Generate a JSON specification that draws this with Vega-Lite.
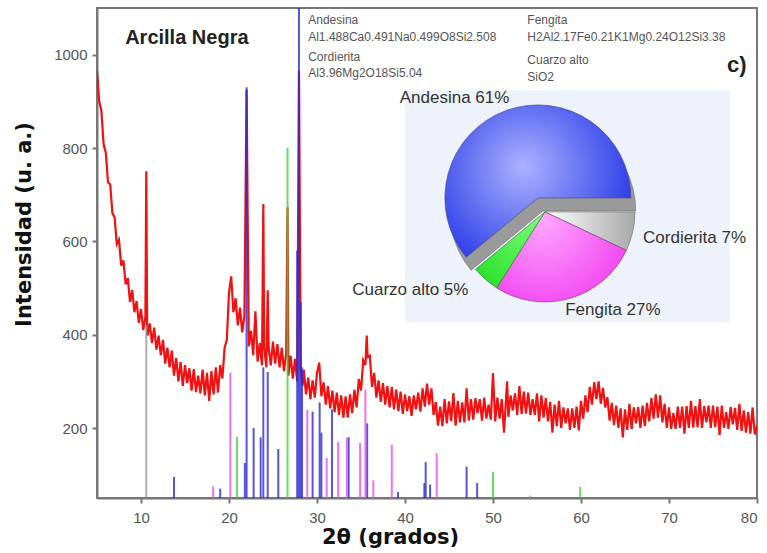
{
 "$schema": "https://vega.github.io/schema/vega-lite/v6.json",
 "width": 660,
 "height": 490,
 "autosize": "none",
 "padding": {"left": 97, "top": 8, "right": 10, "bottom": 55},
 "background": "white",
 "config": {
  "font": "Liberation Sans",
  "scale": {"zero": false},
  "view": {"stroke": "#777777", "strokeWidth": 2},
  "axis": {"domainColor": "#777777", "domainWidth": 2, "tickColor": "#777777", "tickWidth": 2, "tickSize": 5, "labelFont": "Liberation Sans", "labelFontSize": 15, "labelColor": "#555555", "titleFont": "DejaVu Sans", "titleFontSize": 21, "titleFontWeight": "bold", "titleColor": "#111111", "grid": false}
 },
 "datasets": {
  "xrd": [
   {"t":5,"i":965},{"t":5.25,"i":900},{"t":5.5,"i":880},{"t":5.75,"i":808},{"t":6,"i":790},{"t":6.25,"i":726},{"t":6.5,"i":722},{"t":6.75,"i":660},{"t":7,"i":652},{"t":7.25,"i":594},{"t":7.5,"i":603},{"t":7.75,"i":548},{"t":8,"i":559},{"t":8.25,"i":508},{"t":8.5,"i":521},{"t":8.75,"i":470},{"t":9,"i":496},{"t":9.25,"i":448},{"t":9.5,"i":472},{"t":9.75,"i":425},{"t":10,"i":455},{"t":10.25,"i":410},{"t":10.5,"i":438},{"t":10.6,"i":750},{"t":10.7,"i":405},{"t":10.75,"i":398},{"t":11,"i":424},{"t":11.25,"i":382},{"t":11.5,"i":415},{"t":11.75,"i":368},{"t":12,"i":398},{"t":12.25,"i":356},{"t":12.5,"i":389},{"t":12.75,"i":338},{"t":13,"i":372},{"t":13.25,"i":330},{"t":13.5,"i":366},{"t":13.75,"i":312},{"t":14,"i":350},{"t":14.25,"i":300},{"t":14.5,"i":341},{"t":14.75,"i":290},{"t":15,"i":335},{"t":15.25,"i":296},{"t":15.5,"i":328},{"t":15.75,"i":280},{"t":16,"i":326},{"t":16.25,"i":277},{"t":16.5,"i":312},{"t":16.75,"i":274},{"t":17,"i":325},{"t":17.25,"i":270},{"t":17.5,"i":318},{"t":17.75,"i":258},{"t":18,"i":322},{"t":18.25,"i":272},{"t":18.5,"i":330},{"t":18.75,"i":276},{"t":19,"i":335},{"t":19.25,"i":306},{"t":19.5,"i":372},{"t":19.75,"i":388},{"t":20,"i":490},{"t":20.25,"i":525},{"t":20.5,"i":448},{"t":20.75,"i":478},{"t":21,"i":420},{"t":21.25,"i":458},{"t":21.5,"i":405},{"t":21.75,"i":440},{"t":22,"i":925},{"t":22.25,"i":375},{"t":22.5,"i":408},{"t":22.75,"i":356},{"t":23,"i":450},{"t":23.25,"i":342},{"t":23.5,"i":382},{"t":23.75,"i":334},{"t":23.9,"i":680},{"t":24,"i":372},{"t":24.25,"i":330},{"t":24.4,"i":495},{"t":24.5,"i":375},{"t":24.75,"i":334},{"t":25,"i":385},{"t":25.25,"i":338},{"t":25.5,"i":380},{"t":25.75,"i":330},{"t":26,"i":372},{"t":26.25,"i":322},{"t":26.5,"i":360},{"t":26.65,"i":673},{"t":26.75,"i":312},{"t":27,"i":355},{"t":27.25,"i":306},{"t":27.5,"i":348},{"t":27.75,"i":300},{"t":27.95,"i":965},{"t":28.15,"i":330},{"t":28.35,"i":290},{"t":28.5,"i":325},{"t":28.75,"i":272},{"t":29,"i":308},{"t":29.25,"i":262},{"t":29.5,"i":302},{"t":29.75,"i":265},{"t":30,"i":318},{"t":30.25,"i":340},{"t":30.5,"i":268},{"t":30.75,"i":298},{"t":31,"i":250},{"t":31.25,"i":290},{"t":31.5,"i":242},{"t":31.75,"i":280},{"t":32,"i":234},{"t":32.25,"i":276},{"t":32.5,"i":228},{"t":32.75,"i":270},{"t":33,"i":222},{"t":33.25,"i":268},{"t":33.5,"i":222},{"t":33.75,"i":272},{"t":34,"i":232},{"t":34.25,"i":282},{"t":34.5,"i":244},{"t":34.75,"i":305},{"t":35,"i":280},{"t":35.25,"i":345},{"t":35.5,"i":335},{"t":35.65,"i":398},{"t":35.75,"i":352},{"t":36,"i":355},{"t":36.25,"i":288},{"t":36.5,"i":318},{"t":36.75,"i":265},{"t":37,"i":302},{"t":37.25,"i":256},{"t":37.5,"i":296},{"t":37.75,"i":250},{"t":38,"i":290},{"t":38.25,"i":244},{"t":38.5,"i":288},{"t":38.75,"i":240},{"t":39,"i":282},{"t":39.25,"i":236},{"t":39.5,"i":278},{"t":39.75,"i":230},{"t":40,"i":272},{"t":40.25,"i":236},{"t":40.5,"i":268},{"t":40.75,"i":226},{"t":41,"i":270},{"t":41.25,"i":240},{"t":41.5,"i":276},{"t":41.75,"i":235},{"t":42,"i":285},{"t":42.25,"i":246},{"t":42.5,"i":295},{"t":42.75,"i":250},{"t":43,"i":285},{"t":43.25,"i":228},{"t":43.5,"i":256},{"t":43.75,"i":205},{"t":44,"i":246},{"t":44.25,"i":204},{"t":44.5,"i":262},{"t":44.75,"i":210},{"t":45,"i":257},{"t":45.25,"i":215},{"t":45.5,"i":275},{"t":45.75,"i":205},{"t":46,"i":258},{"t":46.25,"i":212},{"t":46.5,"i":255},{"t":46.75,"i":212},{"t":47,"i":285},{"t":47.25,"i":216},{"t":47.5,"i":262},{"t":47.75,"i":218},{"t":48,"i":264},{"t":48.25,"i":232},{"t":48.5,"i":262},{"t":48.75,"i":216},{"t":49,"i":265},{"t":49.25,"i":220},{"t":49.5,"i":250},{"t":49.75,"i":218},{"t":50,"i":318},{"t":50.25,"i":214},{"t":50.5,"i":265},{"t":50.75,"i":220},{"t":51,"i":262},{"t":51.25,"i":190},{"t":51.5,"i":268},{"t":51.6,"i":300},{"t":51.75,"i":224},{"t":52,"i":270},{"t":52.25,"i":238},{"t":52.5,"i":274},{"t":52.75,"i":228},{"t":53,"i":290},{"t":53.25,"i":230},{"t":53.5,"i":278},{"t":53.75,"i":231},{"t":54,"i":276},{"t":54.25,"i":228},{"t":54.5,"i":262},{"t":54.75,"i":228},{"t":55,"i":274},{"t":55.25,"i":214},{"t":55.5,"i":270},{"t":55.75,"i":222},{"t":56,"i":264},{"t":56.25,"i":214},{"t":56.5,"i":256},{"t":56.75,"i":190},{"t":57,"i":250},{"t":57.25,"i":204},{"t":57.5,"i":258},{"t":57.75,"i":200},{"t":58,"i":244},{"t":58.25,"i":210},{"t":58.5,"i":242},{"t":58.75,"i":196},{"t":59,"i":242},{"t":59.25,"i":200},{"t":59.5,"i":246},{"t":59.75,"i":195},{"t":60,"i":258},{"t":60.25,"i":220},{"t":60.5,"i":270},{"t":60.75,"i":234},{"t":61,"i":288},{"t":61.25,"i":250},{"t":61.5,"i":298},{"t":61.75,"i":262},{"t":62,"i":300},{"t":62.25,"i":252},{"t":62.5,"i":286},{"t":62.75,"i":244},{"t":63,"i":266},{"t":63.25,"i":216},{"t":63.5,"i":254},{"t":63.75,"i":206},{"t":64,"i":248},{"t":64.25,"i":200},{"t":64.5,"i":242},{"t":64.75,"i":180},{"t":65,"i":240},{"t":65.25,"i":196},{"t":65.5,"i":252},{"t":65.75,"i":198},{"t":66,"i":244},{"t":66.25,"i":210},{"t":66.5,"i":245},{"t":66.75,"i":200},{"t":67,"i":248},{"t":67.25,"i":204},{"t":67.5,"i":254},{"t":67.75,"i":214},{"t":68,"i":264},{"t":68.25,"i":220},{"t":68.5,"i":272},{"t":68.75,"i":222},{"t":69,"i":270},{"t":69.25,"i":212},{"t":69.5,"i":252},{"t":69.75,"i":200},{"t":70,"i":244},{"t":70.25,"i":198},{"t":70.5,"i":232},{"t":70.75,"i":198},{"t":71,"i":246},{"t":71.25,"i":200},{"t":71.5,"i":246},{"t":71.75,"i":188},{"t":72,"i":247},{"t":72.25,"i":200},{"t":72.5,"i":258},{"t":72.75,"i":201},{"t":73,"i":247},{"t":73.25,"i":202},{"t":73.5,"i":262},{"t":73.75,"i":200},{"t":74,"i":247},{"t":74.25,"i":212},{"t":74.5,"i":248},{"t":74.75,"i":200},{"t":75,"i":248},{"t":75.25,"i":202},{"t":75.5,"i":246},{"t":75.75,"i":185},{"t":76,"i":248},{"t":76.25,"i":200},{"t":76.5,"i":234},{"t":76.75,"i":198},{"t":77,"i":245},{"t":77.25,"i":208},{"t":77.5,"i":243},{"t":77.75,"i":196},{"t":78,"i":252},{"t":78.25,"i":194},{"t":78.5,"i":238},{"t":78.75,"i":190},{"t":79,"i":234},{"t":79.25,"i":188},{"t":79.5,"i":244},{"t":79.75,"i":186},{"t":80,"i":205}
  ],
  "sticks": [
   {"t":13.75,"h":95,"fase":"Andesina"},{"t":19.0,"h":70,"fase":"Andesina"},{"t":21.8,"h":125,"fase":"Andesina"},{"t":22.0,"h":930,"fase":"Andesina"},{"t":22.8,"h":200,"fase":"Andesina"},{"t":23.6,"h":180,"fase":"Andesina"},{"t":23.9,"h":330,"fase":"Andesina"},{"t":24.4,"h":320,"fase":"Andesina"},{"t":25.6,"h":155,"fase":"Andesina"},{"t":27.75,"h":580,"fase":"Andesina"},{"t":27.95,"h":1100,"fase":"Andesina"},{"t":28.15,"h":470,"fase":"Andesina"},{"t":28.3,"h":330,"fase":"Andesina"},{"t":29.5,"h":235,"fase":"Andesina"},{"t":30.3,"h":255,"fase":"Andesina"},{"t":30.5,"h":190,"fase":"Andesina"},{"t":31.7,"h":240,"fase":"Andesina"},{"t":33.6,"h":180,"fase":"Andesina"},{"t":35.7,"h":210,"fase":"Andesina"},{"t":39.2,"h":63,"fase":"Andesina"},{"t":42.2,"h":82,"fase":"Andesina"},{"t":42.35,"h":127,"fase":"Andesina"},{"t":42.85,"h":79,"fase":"Andesina"},{"t":47.0,"h":117,"fase":"Andesina"},{"t":48.2,"h":82,"fase":"Andesina"},
   {"t":18.2,"h":75,"fase":"Fengita"},{"t":20.15,"h":318,"fase":"Fengita"},{"t":28.9,"h":239,"fase":"Fengita"},{"t":31.1,"h":136,"fase":"Fengita"},{"t":32.4,"h":170,"fase":"Fengita"},{"t":33.4,"h":180,"fase":"Fengita"},{"t":34.9,"h":168,"fase":"Fengita"},{"t":35.5,"h":282,"fase":"Fengita"},{"t":36.4,"h":88,"fase":"Fengita"},{"t":38.5,"h":164,"fase":"Fengita"},{"t":43.6,"h":146,"fase":"Fengita"},
   {"t":20.9,"h":181,"fase":"Cuarzo alto"},{"t":26.65,"h":800,"fase":"Cuarzo alto"},{"t":50.0,"h":106,"fase":"Cuarzo alto"},{"t":59.9,"h":74,"fase":"Cuarzo alto"},
   {"t":10.6,"h":420,"fase":"Cordierita"},{"t":54.2,"h":55,"fase":"Cordierita"}
  ],
  "pie": [
   {"fase":"Cordierita","pct":7,"t0":0,"t1":7},
   {"fase":"Fengita","pct":27,"t0":7,"t1":34},
   {"fase":"Cuarzo alto","pct":5,"t0":34,"t1":39},
   {"fase":"Andesina","pct":61,"t0":39,"t1":100}
  ]
 },
 "layer": [
  {
   "data": {"values": [{}]},
   "mark": {"type": "rect", "color": "#eef2fa"},
   "encoding": {
    "x": {"datum": 40.0, "type": "quantitative", "scale": {"domain": [5, 80]}},
    "x2": {"datum": 76.9},
    "y": {"datum": 924, "type": "quantitative", "scale": {"domain": [50, 1100]}},
    "y2": {"datum": 427}
   }
  },
  {
   "data": {"name": "xrd"},
   "mark": {"type": "line", "color": "#f21010", "strokeWidth": 2.2, "clip": true},
   "encoding": {
    "x": {"field": "t", "type": "quantitative", "scale": {"domain": [5, 80]}, "title": "2θ (grados)", "axis": {"values": [10, 20, 30, 40, 50, 60, 70, 80], "labelPadding": 7, "titleX": 293, "titleY": 28, "titleBaseline": "top"}},
    "y": {"field": "i", "type": "quantitative", "scale": {"domain": [50, 1100]}, "title": "Intensidad (u. a.)", "axis": {"values": [200, 400, 600, 800, 1000], "format": "d", "labelPadding": 5, "titleX": -73, "titleY": 216, "titleBaseline": "middle"}}
   }
  },
  {
   "data": {"name": "sticks"},
   "mark": {"type": "rule", "strokeWidth": 2, "opacity": 0.8, "clip": true},
   "encoding": {
    "x": {"field": "t", "type": "quantitative", "scale": {"domain": [5, 80]}},
    "y": {"field": "h", "type": "quantitative", "scale": {"domain": [50, 1100]}},
    "y2": {"datum": 50},
    "color": {"field": "fase", "type": "nominal", "scale": {"domain": ["Andesina", "Fengita", "Cuarzo alto", "Cordierita"], "range": ["#2b2bd6", "#ea4fea", "#3ed63e", "#9a9a9a"]}, "legend": null}
   }
  },
  {
   "data": {"name": "pie"},
   "transform": [{"filter": "datum.fase === 'Andesina'"}],
   "mark": {"type": "arc", "outerRadius": 93, "color": "#9a9a9a", "stroke": "#777777", "strokeWidth": 0.7},
   "encoding": {
    "x": {"datum": 55.65, "type": "quantitative", "scale": {"domain": [5, 80]}},
    "y": {"datum": 665, "type": "quantitative", "scale": {"domain": [50, 1100]}},
    "theta": {"field": "t0", "type": "quantitative", "scale": {"domain": [0, 100], "range": [1.5708, 7.854]}},
    "theta2": {"field": "t1"}
   }
  },
  {
   "data": {"name": "pie"},
   "transform": [{"filter": "datum.fase === 'Andesina'"}],
   "mark": {"type": "arc", "outerRadius": 93, "stroke": "#4a4a9a", "strokeWidth": 0.7,
    "color": {"gradient": "radial", "x1": 0.42, "y1": 0.42, "r1": 0, "x2": 0.45, "y2": 0.45, "r2": 0.62, "stops": [{"offset": 0, "color": "#aab2ff"}, {"offset": 1, "color": "#2536e6"}]}},
   "encoding": {
    "x": {"datum": 55.1, "type": "quantitative", "scale": {"domain": [5, 80]}},
    "y": {"datum": 693, "type": "quantitative", "scale": {"domain": [50, 1100]}},
    "theta": {"field": "t0", "type": "quantitative", "scale": {"domain": [0, 100], "range": [1.5708, 7.854]}},
    "theta2": {"field": "t1"}
   }
  },
  {
   "data": {"name": "pie"},
   "transform": [{"filter": "datum.fase === 'Cordierita'"}],
   "mark": {"type": "arc", "outerRadius": 90, "stroke": "#777777", "strokeWidth": 0.7,
    "color": {"gradient": "linear", "x1": 0, "y1": 0, "x2": 1, "y2": 0, "stops": [{"offset": 0, "color": "#ffffff"}, {"offset": 1, "color": "#a8a8a8"}]}},
   "encoding": {
    "x": {"datum": 55.9, "type": "quantitative", "scale": {"domain": [5, 80]}},
    "y": {"datum": 663, "type": "quantitative", "scale": {"domain": [50, 1100]}},
    "theta": {"field": "t0", "type": "quantitative", "scale": {"domain": [0, 100], "range": [1.5708, 7.854]}},
    "theta2": {"field": "t1"}
   }
  },
  {
   "data": {"name": "pie"},
   "transform": [{"filter": "datum.fase === 'Fengita'"}],
   "mark": {"type": "arc", "outerRadius": 90, "stroke": "#8a3a8a", "strokeWidth": 0.7,
    "color": {"gradient": "radial", "x1": 0.35, "y1": 0.2, "r1": 0, "x2": 0.4, "y2": 0.3, "r2": 0.8, "stops": [{"offset": 0, "color": "#ffa8ff"}, {"offset": 1, "color": "#ee30ee"}]}},
   "encoding": {
    "x": {"datum": 55.9, "type": "quantitative", "scale": {"domain": [5, 80]}},
    "y": {"datum": 663, "type": "quantitative", "scale": {"domain": [50, 1100]}},
    "theta": {"field": "t0", "type": "quantitative", "scale": {"domain": [0, 100], "range": [1.5708, 7.854]}},
    "theta2": {"field": "t1"}
   }
  },
  {
   "data": {"name": "pie"},
   "transform": [{"filter": "datum.fase === 'Cuarzo alto'"}],
   "mark": {"type": "arc", "outerRadius": 90, "stroke": "#3a7a3a", "strokeWidth": 0.7,
    "color": {"gradient": "linear", "x1": 1, "y1": 0, "x2": 0, "y2": 1, "stops": [{"offset": 0, "color": "#7dff7d"}, {"offset": 1, "color": "#22dd22"}]}},
   "encoding": {
    "x": {"datum": 55.9, "type": "quantitative", "scale": {"domain": [5, 80]}},
    "y": {"datum": 663, "type": "quantitative", "scale": {"domain": [50, 1100]}},
    "theta": {"field": "t0", "type": "quantitative", "scale": {"domain": [0, 100], "range": [1.5708, 7.854]}},
    "theta2": {"field": "t1"}
   }
  },
  {"data": {"values": [{}]}, "mark": {"type": "text", "text": "Arcilla Negra", "align": "left", "baseline": "middle", "fontSize": 20, "fontWeight": "bold", "color": "#222222"}, "encoding": {"x": {"datum": 8.2, "type": "quantitative", "scale": {"domain": [5, 80]}}, "y": {"datum": 1036, "type": "quantitative", "scale": {"domain": [50, 1100]}}}},
  {"data": {"values": [{}]}, "mark": {"type": "text", "text": "c)", "align": "left", "baseline": "middle", "fontSize": 22, "fontWeight": "bold", "color": "#222222"}, "encoding": {"x": {"datum": 76.6, "type": "quantitative", "scale": {"domain": [5, 80]}}, "y": {"datum": 978, "type": "quantitative", "scale": {"domain": [50, 1100]}}}},
  {"data": {"values": [{}]}, "mark": {"type": "text", "text": "Andesina", "align": "left", "baseline": "middle", "fontSize": 12, "color": "#555555"}, "encoding": {"x": {"datum": 29.0, "type": "quantitative", "scale": {"domain": [5, 80]}}, "y": {"datum": 1074, "type": "quantitative", "scale": {"domain": [50, 1100]}}}},
  {"data": {"values": [{}]}, "mark": {"type": "text", "text": "Al1.488Ca0.491Na0.499O8Si2.508", "align": "left", "baseline": "middle", "fontSize": 12, "color": "#555555"}, "encoding": {"x": {"datum": 29.0, "type": "quantitative", "scale": {"domain": [5, 80]}}, "y": {"datum": 1038, "type": "quantitative", "scale": {"domain": [50, 1100]}}}},
  {"data": {"values": [{}]}, "mark": {"type": "text", "text": "Cordierita", "align": "left", "baseline": "middle", "fontSize": 12, "color": "#555555"}, "encoding": {"x": {"datum": 29.0, "type": "quantitative", "scale": {"domain": [5, 80]}}, "y": {"datum": 995, "type": "quantitative", "scale": {"domain": [50, 1100]}}}},
  {"data": {"values": [{}]}, "mark": {"type": "text", "text": "Al3.96Mg2O18Si5.04", "align": "left", "baseline": "middle", "fontSize": 12, "color": "#555555"}, "encoding": {"x": {"datum": 29.0, "type": "quantitative", "scale": {"domain": [5, 80]}}, "y": {"datum": 961, "type": "quantitative", "scale": {"domain": [50, 1100]}}}},
  {"data": {"values": [{}]}, "mark": {"type": "text", "text": "Fengita", "align": "left", "baseline": "middle", "fontSize": 12, "color": "#555555"}, "encoding": {"x": {"datum": 53.9, "type": "quantitative", "scale": {"domain": [5, 80]}}, "y": {"datum": 1074, "type": "quantitative", "scale": {"domain": [50, 1100]}}}},
  {"data": {"values": [{}]}, "mark": {"type": "text", "text": "H2Al2.17Fe0.21K1Mg0.24O12Si3.38", "align": "left", "baseline": "middle", "fontSize": 12, "color": "#555555"}, "encoding": {"x": {"datum": 53.9, "type": "quantitative", "scale": {"domain": [5, 80]}}, "y": {"datum": 1038, "type": "quantitative", "scale": {"domain": [50, 1100]}}}},
  {"data": {"values": [{}]}, "mark": {"type": "text", "text": "Cuarzo alto", "align": "left", "baseline": "middle", "fontSize": 12, "color": "#555555"}, "encoding": {"x": {"datum": 53.9, "type": "quantitative", "scale": {"domain": [5, 80]}}, "y": {"datum": 988, "type": "quantitative", "scale": {"domain": [50, 1100]}}}},
  {"data": {"values": [{}]}, "mark": {"type": "text", "text": "SiO2", "align": "left", "baseline": "middle", "fontSize": 12, "color": "#555555"}, "encoding": {"x": {"datum": 53.9, "type": "quantitative", "scale": {"domain": [5, 80]}}, "y": {"datum": 952, "type": "quantitative", "scale": {"domain": [50, 1100]}}}},
  {"data": {"values": [{}]}, "mark": {"type": "text", "text": "Andesina 61%", "align": "left", "baseline": "middle", "fontSize": 17, "color": "#333333"}, "encoding": {"x": {"datum": 39.4, "type": "quantitative", "scale": {"domain": [5, 80]}}, "y": {"datum": 907, "type": "quantitative", "scale": {"domain": [50, 1100]}}}},
  {"data": {"values": [{}]}, "mark": {"type": "text", "text": "Cordierita 7%", "align": "left", "baseline": "middle", "fontSize": 17, "color": "#333333"}, "encoding": {"x": {"datum": 67.05, "type": "quantitative", "scale": {"domain": [5, 80]}}, "y": {"datum": 607, "type": "quantitative", "scale": {"domain": [50, 1100]}}}},
  {"data": {"values": [{}]}, "mark": {"type": "text", "text": "Fengita 27%", "align": "left", "baseline": "middle", "fontSize": 17, "color": "#333333"}, "encoding": {"x": {"datum": 58.2, "type": "quantitative", "scale": {"domain": [5, 80]}}, "y": {"datum": 453, "type": "quantitative", "scale": {"domain": [50, 1100]}}}},
  {"data": {"values": [{}]}, "mark": {"type": "text", "text": "Cuarzo alto 5%", "align": "left", "baseline": "middle", "fontSize": 17, "color": "#333333"}, "encoding": {"x": {"datum": 34.0, "type": "quantitative", "scale": {"domain": [5, 80]}}, "y": {"datum": 496, "type": "quantitative", "scale": {"domain": [50, 1100]}}}}
 ]
}
